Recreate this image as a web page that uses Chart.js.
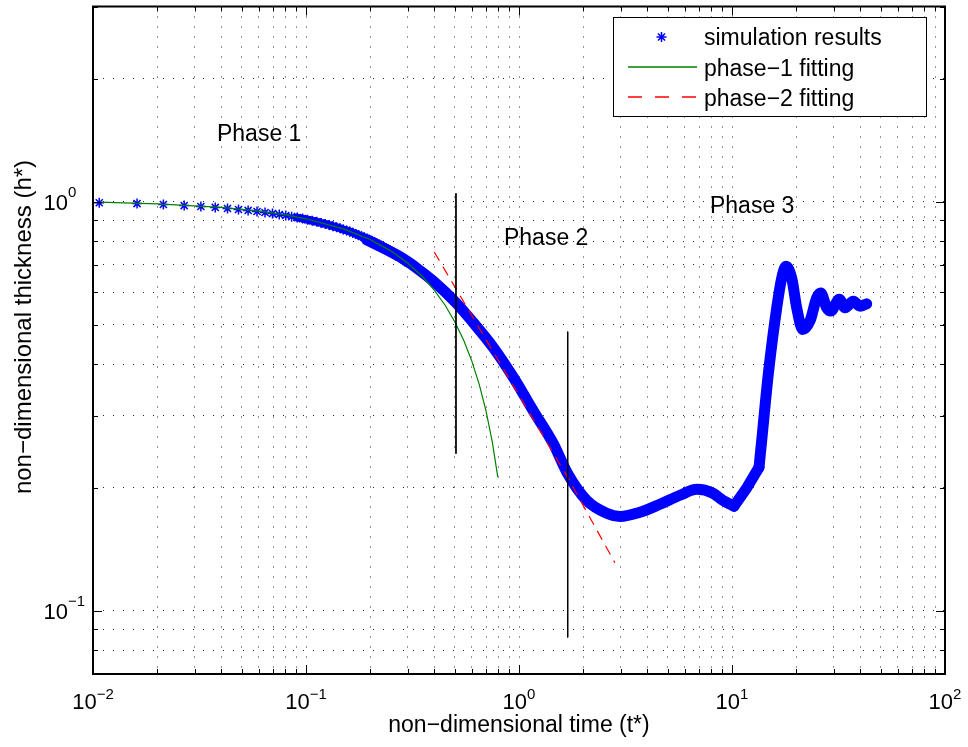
<!DOCTYPE html>
<html><head><meta charset="utf-8">
<script src="https://cdn.jsdelivr.net/npm/chart.js@4.4.1/dist/chart.umd.min.js"></script>
<style>html,body{margin:0;padding:0;background:#fff;}canvas{display:block;}</style>
</head><body>
<canvas id="c" width="968" height="747"></canvas>
<script>
// ---------- data ----------
// simulation results: individually visible star markers (early times)
const simT = [0.0107,0.0161,0.0214,0.0268,0.0321,0.0375,0.0428,0.0482,0.0535,0.0589,
  0.0642,0.0696,0.0749,0.0803,0.0856,0.0910,0.0963,0.1017,0.1070,0.1124,
  0.1177,0.1231,0.1284,0.1338,0.1391,0.1445,0.1498,0.1552,0.1605,0.1659,
  0.1712,0.1766,0.1819,0.1873,0.1926,0.1980,0.2033,0.2087,0.2140,0.2194,
  0.2247,0.2301,0.2354,0.2408,0.2461,0.2515,0.2568,0.2622,0.2675,0.2729,
  0.2782,0.2836,0.2889,0.2943,0.2996];
const simH = [0.994,0.989,0.984,0.978,0.973,0.968,0.962,0.957,0.952,0.946,
  0.941,0.935,0.930,0.925,0.919,0.914,0.909,0.903,0.898,0.893,
  0.887,0.882,0.877,0.871,0.866,0.861,0.855,0.850,0.845,0.839,
  0.834,0.828,0.823,0.818,0.812,0.807,0.802,0.796,0.791,0.786,
  0.780,0.775,0.770,0.764,0.759,0.754,0.748,0.743,0.738,0.732,
  0.730,0.724,0.719,0.714,0.709];
// simulation results: dense part where the markers merge into a thick band
const simBandT = [0.1928,0.2763,0.331,0.396,0.506,0.610,0.757,0.940,1.167,
  1.449,1.693,2.078,2.580,2.980,3.70,4.59,5.70,6.85,8.14,
  9.07,10.22,11.76,13.39,13.79,14.81,16.22,17.12,17.93,19.06,
  20.13,21.48,23.24,24.99,26.09,27.84,29.07,31.9,33.93,37.11,
  39.9,42.9];
const simBandH = [0.807,0.733,0.688,0.639,0.566,0.506,0.440,0.372,0.308,
  0.256,0.216,0.186,0.173,0.170,0.174,0.182,0.1915,0.198,0.1937,
  0.186,0.180,0.200,0.224,0.261,0.379,0.550,0.651,0.695,0.651,
  0.550,0.487,0.511,0.582,0.598,0.550,0.540,0.577,0.550,0.571,
  0.555,0.5625];
// phase-1 fitting (green)
const fit1T = [0.0107,0.02,0.04,0.06,0.08,0.1,0.15,0.2,0.25,0.3,0.35,0.4,0.45,0.5,0.55,0.6,0.65,0.7,0.75,0.795];
const fit1H = [0.997,0.988,0.968,0.948,0.928,0.908,0.858,0.808,0.758,0.708,0.658,0.608,0.558,0.508,0.458,0.408,0.358,0.308,0.258,0.212];
// phase-2 fitting (red dashed)
const fit2T = [0.40,0.875,1.69,2.82];
const fit2H = [0.753,0.378,0.212,0.131];
// phase dividers (thin black vertical lines)
const divider1T = [0.506,0.506];
const divider1H = [1.048,0.242];
const divider2T = [1.693,1.693];
const divider2H = [0.481,0.086];
// axis ticks / labels
const xTickExponents = [-2,-1,0,1,2];
const yTickExponents = [-1,0];
const xRange = [0.01,100];
const yRange = [0.07,3];
const seriesNames = ['simulation results','phase\u22121 fitting','phase\u22122 fitting'];
const phaseLabels = ['Phase 1','Phase 2','Phase 3'];
const phaseLabelT = [0.0382,0.850,7.88];
const phaseLabelH = [1.403,0.784,0.938];
const xTitle = 'non\u2212dimensional time (t*)';
const yTitle = 'non\u2212dimensional thickness (h*)';

// ---------- helpers ----------
const pts = (xs, ys) => xs.map((v, i) => ({x: v, y: ys[i]}));
function decadeGrid(lo, hi) {
  const out = [];
  for (let e = Math.floor(Math.log10(lo)); e <= Math.ceil(Math.log10(hi)); e++) {
    for (let m = 1; m <= 9; m++) {
      const v = +(m * Math.pow(10, e)).toPrecision(6);
      if (v >= lo * 0.9999 && v <= hi * 1.0001) out.push(v);
    }
  }
  return out;
}
const isDecade = v => Math.abs(Math.log10(v) - Math.round(Math.log10(v))) < 1e-9;
const FONT = '"Liberation Sans", Arial, Helvetica, sans-serif';
const SUP = '\u2212';
const expText = e => (e < 0 ? SUP + Math.abs(e) : String(e));
const BLUE = '#0000ff', GREEN = '#008000', RED = '#ff0000';

// the dense band: smooth descent, a short straight rise, then the oscillating plateau
const bandAll = pts(simBandT, simBandH);
const iTrough = simBandT.indexOf(10.22), iKink = simBandT.indexOf(13.39);
const bandA = bandAll.slice(0, iTrough + 1);
const bandB = bandAll.slice(iTrough, iKink + 1);
const bandC = bandAll.slice(iKink);
const markerCore = pts(simT, simH).filter(p => p.x >= 0.09);

function drawStar(ctx, cx, cy, r) {
  ctx.beginPath();
  for (let k = 0; k < 4; k++) {
    const a = k * Math.PI / 4;
    ctx.moveTo(cx - r * Math.cos(a), cy - r * Math.sin(a));
    ctx.lineTo(cx + r * Math.cos(a), cy + r * Math.sin(a));
  }
  ctx.stroke();
}

const matlabFrame = {
  id: 'matlabFrame',
  afterDatasetsDraw(chart) {
    const {ctx, chartArea: a, scales: {x, y}} = chart;
    ctx.save();
    // inward tick marks on all four sides
    ctx.strokeStyle = '#000';
    ctx.lineWidth = 1;
    ctx.beginPath();
    x.ticks.forEach(t => {
      const px = Math.round(x.getPixelForValue(t.value)) + 0.5;
      const len = isDecade(t.value) ? 9 : 5;
      ctx.moveTo(px, a.bottom); ctx.lineTo(px, a.bottom - len);
      ctx.moveTo(px, a.top); ctx.lineTo(px, a.top + len);
    });
    y.ticks.forEach(t => {
      const py = Math.round(y.getPixelForValue(t.value)) + 0.5;
      const len = isDecade(t.value) ? 9 : 5;
      ctx.moveTo(a.left, py); ctx.lineTo(a.left + len, py);
      ctx.moveTo(a.right, py); ctx.lineTo(a.right - len, py);
    });
    ctx.stroke();
    // axes box
    ctx.lineWidth = 2;
    ctx.strokeRect(a.left, a.top, a.right - a.left, a.bottom - a.top);

    ctx.fillStyle = '#000';
    // x tick labels 10^n
    xTickExponents.forEach(e => {
      const px = x.getPixelForValue(Math.pow(10, e));
      ctx.font = '22px ' + FONT;
      const w1 = ctx.measureText('10').width;
      ctx.font = '15px ' + FONT;
      const w2 = ctx.measureText(expText(e)).width;
      const left = px - (w1 + w2) / 2;
      ctx.textAlign = 'left'; ctx.textBaseline = 'alphabetic';
      ctx.font = '22px ' + FONT;
      ctx.fillText('10', left, a.bottom + 35);
      ctx.font = '15px ' + FONT;
      ctx.fillText(expText(e), left + w1, a.bottom + 25);
    });
    // y tick labels 10^n
    yTickExponents.forEach(e => {
      const py = y.getPixelForValue(Math.pow(10, e));
      ctx.textBaseline = 'alphabetic';
      ctx.font = '22px ' + FONT;
      ctx.textAlign = 'right';
      ctx.fillText('10', a.left - 25, py + 8);
      ctx.font = '15px ' + FONT;
      ctx.textAlign = 'left';
      ctx.fillText(expText(e), a.left - 25, py - 5);
    });
    // axis titles
    ctx.font = '23px ' + FONT;
    ctx.textAlign = 'center';
    ctx.textBaseline = 'alphabetic';
    ctx.fillText(xTitle, (a.left + a.right) / 2, 732);
    ctx.save();
    ctx.font = '24px ' + FONT;
    ctx.translate(31, 327);
    ctx.rotate(-Math.PI / 2);
    ctx.fillText(yTitle, 0, 0);
    ctx.restore();

    // phase annotations (anchored at data coordinates)
    ctx.font = '23px ' + FONT;
    ctx.textAlign = 'left';
    phaseLabels.forEach((s, i) => {
      ctx.fillText(s, x.getPixelForValue(phaseLabelT[i]), y.getPixelForValue(phaseLabelH[i]));
    });

    // legend (MATLAB style, inside the axes, top right)
    const lx = 613.5, ly = 17.5, lw = 313, lh = 99;
    ctx.fillStyle = '#fff';
    ctx.fillRect(lx, ly, lw, lh);
    ctx.strokeStyle = '#000';
    ctx.lineWidth = 1;
    ctx.strokeRect(lx, ly, lw, lh);
    // row 1: star marker
    ctx.strokeStyle = BLUE;
    ctx.lineWidth = 1.5;
    drawStar(ctx, 661.5, 37, 5);
    // row 2: green line
    ctx.strokeStyle = GREEN;
    ctx.lineWidth = 1.3;
    ctx.beginPath(); ctx.moveTo(628, 67); ctx.lineTo(697, 67); ctx.stroke();
    // row 3: red dashed
    ctx.strokeStyle = RED;
    ctx.lineWidth = 1.5;
    ctx.setLineDash([14, 13]);
    ctx.beginPath(); ctx.moveTo(628, 97); ctx.lineTo(697, 97); ctx.stroke();
    ctx.setLineDash([]);
    ctx.fillStyle = '#000';
    ctx.font = '23px ' + FONT;
    ctx.textAlign = 'left';
    ctx.fillText(seriesNames[0], 704, 45);
    ctx.fillText(seriesNames[1], 704, 75.5);
    ctx.fillText(seriesNames[2], 704, 106);
    ctx.restore();
  }
};

const gridOpts = {display: true, color: 'rgba(0,0,0,0.85)', lineWidth: 1, drawTicks: false};
const borderOpts = {display: false, dash: [1, 9]};
const bandStyle = {showLine: true, borderColor: BLUE, borderWidth: 11, borderJoinStyle: 'round', borderCapStyle: 'round', pointRadius: 0, order: 4};

new Chart(document.getElementById('c'), {
  type: 'scatter',
  data: {
    datasets: [
      {label: 'divider 1', data: pts(divider1T, divider1H), showLine: true, borderColor: '#000', borderWidth: 1, pointRadius: 0, order: 0},
      {label: 'divider 2', data: pts(divider2T, divider2H), showLine: true, borderColor: '#000', borderWidth: 1, pointRadius: 0, order: 0},
      {label: seriesNames[2], data: pts(fit2T, fit2H), showLine: true, borderColor: RED, borderWidth: 1.2, borderDash: [10, 7], pointRadius: 0, order: 1},
      {label: seriesNames[1], data: pts(fit1T, fit1H), showLine: true, borderColor: GREEN, borderWidth: 1.2, pointRadius: 0, order: 2},
      {label: seriesNames[0], data: pts(simT, simH), showLine: false, pointStyle: 'star', pointRadius: 5, borderColor: BLUE, borderWidth: 1.5, order: 3},
      Object.assign({label: seriesNames[0] + ' (core)', data: markerCore}, bandStyle, {borderWidth: 8}),
      Object.assign({label: seriesNames[0] + ' (descent)', data: bandA, cubicInterpolationMode: 'monotone'}, bandStyle),
      Object.assign({label: seriesNames[0] + ' (rise)', data: bandB}, bandStyle),
      Object.assign({label: seriesNames[0] + ' (plateau)', data: bandC, cubicInterpolationMode: 'monotone'}, bandStyle)
    ]
  },
  options: {
    responsive: false,
    devicePixelRatio: 1,
    animation: false,
    events: [],
    layout: {padding: {left: 93, right: 23, top: 4, bottom: 73}},
    plugins: {legend: {display: false}, tooltip: {enabled: false}},
    scales: {
      x: {type: 'logarithmic', position: 'bottom', min: xRange[0], max: xRange[1],
          afterBuildTicks: s => { s.ticks = decadeGrid(xRange[0], xRange[1]).map(v => ({value: v})); },
          ticks: {display: false}, grid: gridOpts, border: borderOpts, title: {display: false}},
      y: {type: 'logarithmic', position: 'left', min: yRange[0], max: yRange[1],
          afterBuildTicks: s => { s.ticks = decadeGrid(yRange[0], yRange[1]).map(v => ({value: v})); },
          ticks: {display: false}, grid: gridOpts, border: borderOpts, title: {display: false}}
    }
  },
  plugins: [matlabFrame]
});
</script>
</body></html>
